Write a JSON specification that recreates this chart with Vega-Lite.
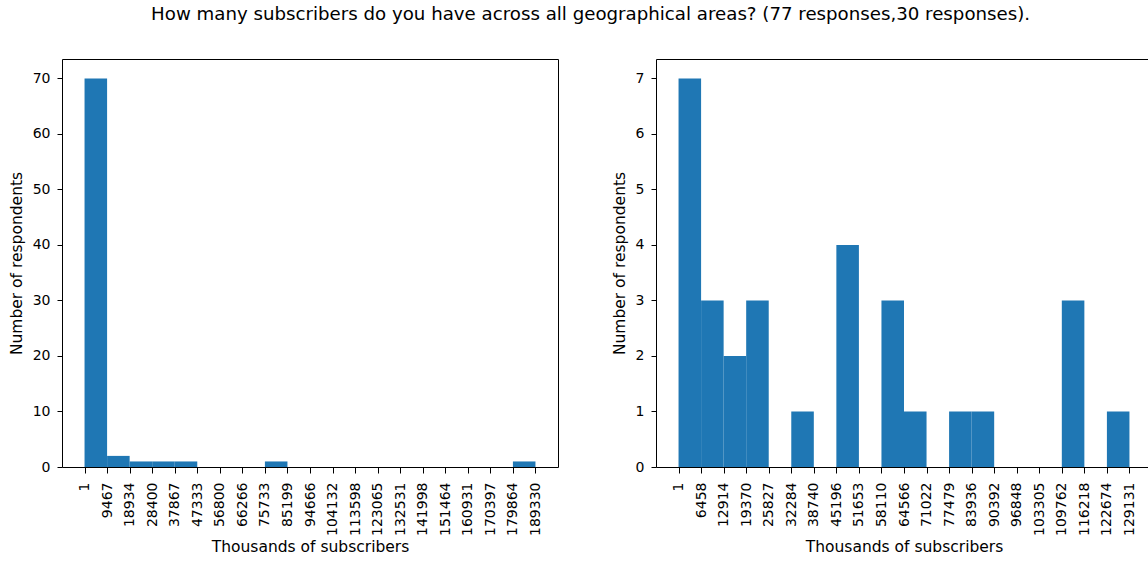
{
  "$schema": "https://vega.github.io/schema/vega-lite/v6.json",
  "padding": {"left": 8, "top": 5, "right": 5, "bottom": 5},
  "background": "white",
  "title": {
    "text": "How many subscribers do you have across all geographical areas? (77 responses,30 responses).",
    "fontSize": 18.2,
    "font": "DejaVu Sans",
    "fontWeight": "normal",
    "color": "#000",
    "anchor": "middle",
    "offset": 34,
    "dx": 10
  },
  "datasets": {
    "left": [
      {"start": 1, "end": 9467, "count": 70},
      {"start": 9467, "end": 18934, "count": 2},
      {"start": 18934, "end": 28400, "count": 1},
      {"start": 28400, "end": 37867, "count": 1},
      {"start": 37867, "end": 47333, "count": 1},
      {"start": 47333, "end": 56800, "count": 0},
      {"start": 56800, "end": 66266, "count": 0},
      {"start": 66266, "end": 75733, "count": 0},
      {"start": 75733, "end": 85199, "count": 1},
      {"start": 85199, "end": 94666, "count": 0},
      {"start": 94666, "end": 104132, "count": 0},
      {"start": 104132, "end": 113598, "count": 0},
      {"start": 113598, "end": 123065, "count": 0},
      {"start": 123065, "end": 132531, "count": 0},
      {"start": 132531, "end": 141998, "count": 0},
      {"start": 141998, "end": 151464, "count": 0},
      {"start": 151464, "end": 160931, "count": 0},
      {"start": 160931, "end": 170397, "count": 0},
      {"start": 170397, "end": 179864, "count": 0},
      {"start": 179864, "end": 189330, "count": 1}
    ],
    "right": [
      {"start": 1, "end": 6458, "count": 7},
      {"start": 6458, "end": 12914, "count": 3},
      {"start": 12914, "end": 19370, "count": 2},
      {"start": 19370, "end": 25827, "count": 3},
      {"start": 25827, "end": 32284, "count": 0},
      {"start": 32284, "end": 38740, "count": 1},
      {"start": 38740, "end": 45196, "count": 0},
      {"start": 45196, "end": 51653, "count": 4},
      {"start": 51653, "end": 58110, "count": 0},
      {"start": 58110, "end": 64566, "count": 3},
      {"start": 64566, "end": 71022, "count": 1},
      {"start": 71022, "end": 77479, "count": 0},
      {"start": 77479, "end": 83936, "count": 1},
      {"start": 83936, "end": 90392, "count": 1},
      {"start": 90392, "end": 96848, "count": 0},
      {"start": 96848, "end": 103305, "count": 0},
      {"start": 103305, "end": 109762, "count": 0},
      {"start": 109762, "end": 116218, "count": 3},
      {"start": 116218, "end": 122674, "count": 0},
      {"start": 122674, "end": 129131, "count": 1}
    ]
  },
  "spacing": 98,
  "bounds": "flush",
  "hconcat": [
    {
      "width": 496,
      "height": 408,
      "data": {"name": "left"},
      "mark": {"type": "rect", "color": "#1f77b4"},
      "encoding": {
        "x": {
          "field": "start", "type": "quantitative",
          "scale": {"domain": [-9466, 198796], "nice": false, "zero": false},
          "axis": {
            "title": "Thousands of subscribers",
            "values": [1, 9467, 18934, 28400, 37867, 47333, 56800, 66266, 75733, 85199, 94666, 104132, 113598, 123065, 132531, 141998, 151464, 160931, 170397, 179864, 189330],
            "format": "d",
            "labelAngle": -90
          }
        },
        "x2": {"field": "end"},
        "y": {
          "field": "count", "type": "quantitative",
          "scale": {"domain": [0, 73.5], "nice": false},
          "axis": {"title": "Number of respondents", "values": [0, 10, 20, 30, 40, 50, 60, 70]}
        },
        "y2": {"datum": 0}
      }
    },
    {
      "width": 496,
      "height": 408,
      "data": {"name": "right"},
      "mark": {"type": "rect", "color": "#1f77b4"},
      "encoding": {
        "x": {
          "field": "start", "type": "quantitative",
          "scale": {"domain": [-6455.5, 135587.5], "nice": false, "zero": false},
          "axis": {
            "title": "Thousands of subscribers",
            "values": [1, 6458, 12914, 19370, 25827, 32284, 38740, 45196, 51653, 58110, 64566, 71022, 77479, 83936, 90392, 96848, 103305, 109762, 116218, 122674, 129131],
            "format": "d",
            "labelAngle": -90
          }
        },
        "x2": {"field": "end"},
        "y": {
          "field": "count", "type": "quantitative",
          "scale": {"domain": [0, 7.35], "nice": false},
          "axis": {"title": "Number of respondents", "values": [0, 1, 2, 3, 4, 5, 6, 7]}
        },
        "y2": {"datum": 0}
      }
    }
  ],
  "config": {
    "font": "DejaVu Sans",
    "view": {"stroke": "#000", "strokeWidth": 1},
    "axis": {
      "grid": false,
      "domain": false,
      "ticks": true,
      "tickColor": "#000",
      "tickWidth": 1,
      "labelFont": "DejaVu Sans",
      "labelFontSize": 14,
      "labelColor": "#000",
      "titleFont": "DejaVu Sans",
      "titleFontSize": 15.5,
      "titleFontWeight": "normal",
      "titleColor": "#000"
    },
    "axisY": {"titlePadding": 8, "tickSize": 5, "labelPadding": 7},
    "axisX": {"titlePadding": 4, "tickSize": 6, "labelPadding": 9}
  }
}
